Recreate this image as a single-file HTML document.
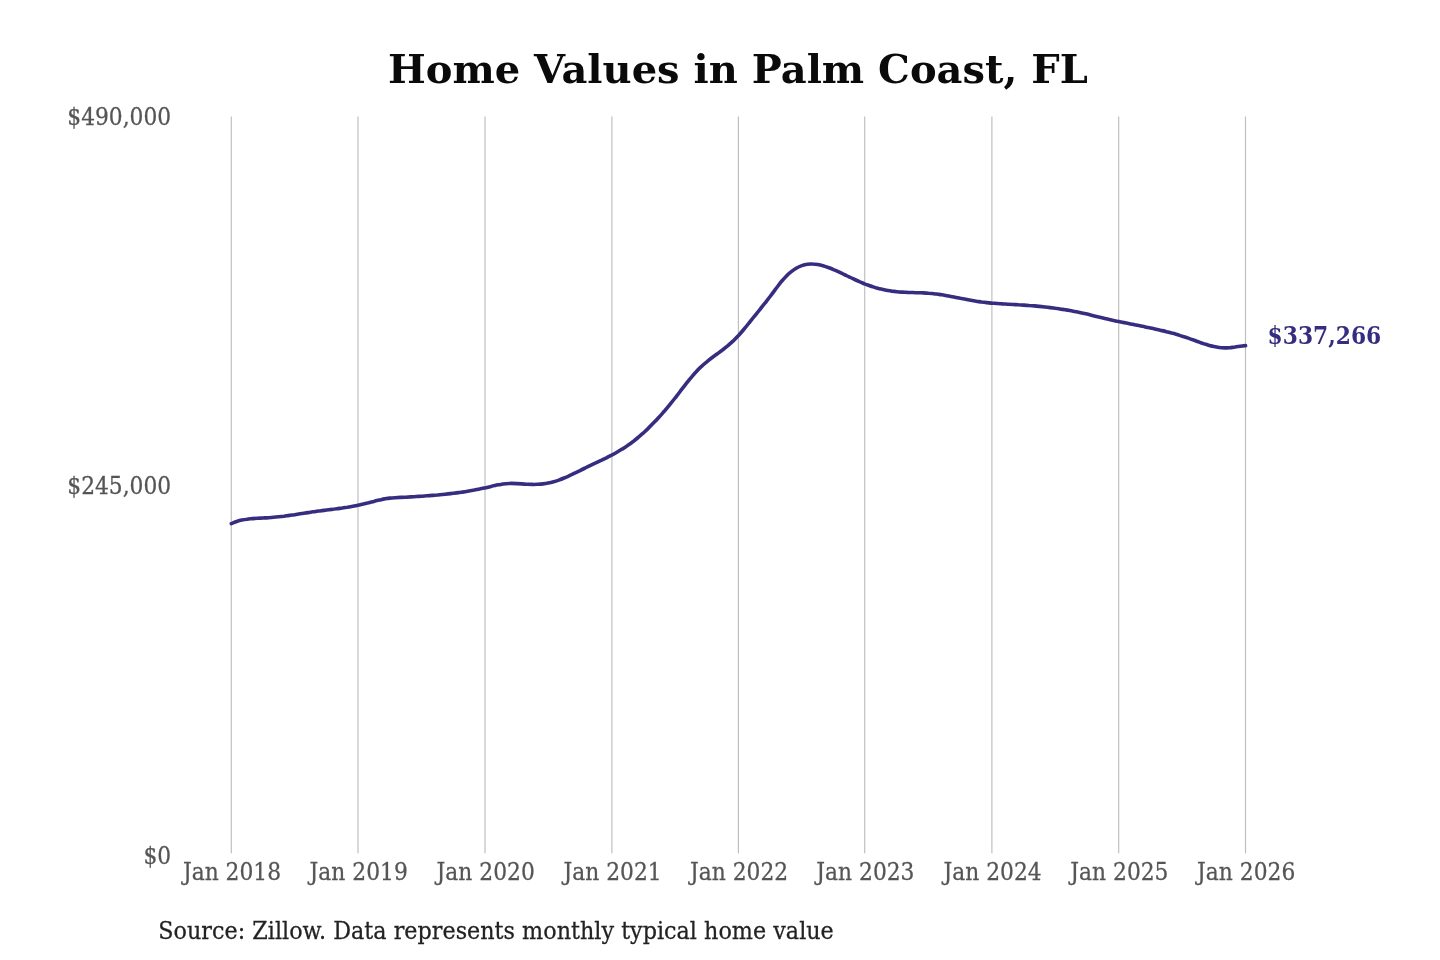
<!DOCTYPE html>
<html lang="en">
<head>
<meta charset="utf-8">
<title>Home Values in Palm Coast, FL</title>
<style>
html,body{margin:0;padding:0;background:#fff;}
body{width:1440px;height:960px;overflow:hidden;}
svg{display:block;}
text{font-family:"DejaVu Serif","Liberation Serif",serif;}
.title{font-size:40px;font-weight:bold;fill:#0a0a0a;}
.ax{font-size:21.8px;fill:#555;stroke:#555;stroke-width:0.25px;}
.val{font-size:21.8px;font-weight:bold;fill:#362d80;}
.src{font-size:22.3px;fill:#222;stroke:#222;stroke-width:0.25px;}
</style>
</head>
<body>
<svg width="1440" height="960" viewBox="0 0 1440 960">
<rect width="1440" height="960" fill="#ffffff"/>
<line x1="231.3" y1="116.5" x2="231.3" y2="853.3" stroke="#bdbdbd" stroke-width="1.15"/>
<line x1="358.0" y1="116.5" x2="358.0" y2="853.3" stroke="#bdbdbd" stroke-width="1.15"/>
<line x1="485.0" y1="116.5" x2="485.0" y2="853.3" stroke="#bdbdbd" stroke-width="1.15"/>
<line x1="611.9" y1="116.5" x2="611.9" y2="853.3" stroke="#bdbdbd" stroke-width="1.15"/>
<line x1="738.4" y1="116.5" x2="738.4" y2="853.3" stroke="#bdbdbd" stroke-width="1.15"/>
<line x1="864.7" y1="116.5" x2="864.7" y2="853.3" stroke="#bdbdbd" stroke-width="1.15"/>
<line x1="991.9" y1="116.5" x2="991.9" y2="853.3" stroke="#bdbdbd" stroke-width="1.15"/>
<line x1="1118.7" y1="116.5" x2="1118.7" y2="853.3" stroke="#bdbdbd" stroke-width="1.15"/>
<line x1="1245.5" y1="116.5" x2="1245.5" y2="853.3" stroke="#bdbdbd" stroke-width="1.15"/>
<text transform="translate(737.90 83.10) scale(1.0000 0.9900)" text-anchor="middle" class="title">Home Values in Palm Coast, FL</text>
<text transform="translate(171.20 125.00) scale(1.0000 1.1200)" text-anchor="end" class="ax">$490,000</text>
<text transform="translate(171.20 494.40) scale(1.0000 1.1200)" text-anchor="end" class="ax">$245,000</text>
<text transform="translate(171.20 863.90) scale(1.0000 1.1200)" text-anchor="end" class="ax">$0</text>
<text transform="translate(232.00 879.70) scale(1.0000 1.0900)" text-anchor="middle" class="ax">Jan 2018</text>
<text transform="translate(358.70 879.70) scale(1.0000 1.0900)" text-anchor="middle" class="ax">Jan 2019</text>
<text transform="translate(485.70 879.70) scale(1.0000 1.0900)" text-anchor="middle" class="ax">Jan 2020</text>
<text transform="translate(612.60 879.70) scale(1.0000 1.0900)" text-anchor="middle" class="ax">Jan 2021</text>
<text transform="translate(739.10 879.70) scale(1.0000 1.0900)" text-anchor="middle" class="ax">Jan 2022</text>
<text transform="translate(865.40 879.70) scale(1.0000 1.0900)" text-anchor="middle" class="ax">Jan 2023</text>
<text transform="translate(992.60 879.70) scale(1.0000 1.0900)" text-anchor="middle" class="ax">Jan 2024</text>
<text transform="translate(1119.40 879.70) scale(1.0000 1.0900)" text-anchor="middle" class="ax">Jan 2025</text>
<text transform="translate(1246.20 879.70) scale(1.0000 1.0900)" text-anchor="middle" class="ax">Jan 2026</text>
<path d="M231.3 523.6 C232.2 523.3 234.8 522.1 236.6 521.5 C238.3 521.0 240.1 520.5 241.9 520.1 C243.6 519.7 245.4 519.4 247.1 519.2 C248.9 518.9 250.7 518.8 252.4 518.6 C254.2 518.5 256.0 518.4 257.7 518.3 C259.5 518.2 261.2 518.1 263.0 518.0 C264.8 517.9 266.5 517.9 268.3 517.7 C270.0 517.6 271.8 517.5 273.6 517.3 C275.3 517.2 277.1 517.0 278.8 516.8 C280.6 516.6 282.4 516.4 284.1 516.2 C285.9 515.9 287.6 515.7 289.4 515.4 C291.2 515.2 292.9 514.9 294.7 514.7 C296.5 514.4 298.2 514.1 300.0 513.8 C301.7 513.6 303.5 513.3 305.3 513.0 C307.0 512.7 308.8 512.5 310.5 512.2 C312.3 511.9 314.1 511.7 315.8 511.4 C317.6 511.2 319.3 510.9 321.1 510.7 C322.9 510.5 324.6 510.2 326.4 510.0 C328.2 509.8 329.9 509.6 331.7 509.4 C333.4 509.1 335.2 508.9 337.0 508.7 C338.7 508.5 340.5 508.2 342.2 508.0 C344.0 507.7 345.8 507.4 347.5 507.2 C349.3 506.9 351.0 506.6 352.8 506.2 C354.6 505.9 356.3 505.6 358.1 505.2 C359.8 504.9 361.6 504.5 363.4 504.1 C365.1 503.7 366.9 503.2 368.7 502.8 C370.4 502.3 372.2 501.8 373.9 501.4 C375.7 500.9 377.5 500.5 379.2 500.1 C381.0 499.7 382.7 499.2 384.5 498.9 C386.3 498.6 388.0 498.3 389.8 498.1 C391.5 497.9 393.3 497.8 395.1 497.7 C396.8 497.6 398.6 497.5 400.4 497.4 C402.1 497.3 403.9 497.2 405.6 497.2 C407.4 497.1 409.2 497.0 410.9 496.9 C412.7 496.8 414.4 496.7 416.2 496.5 C418.0 496.4 419.7 496.3 421.5 496.2 C423.2 496.1 425.0 496.0 426.8 495.8 C428.5 495.7 430.3 495.6 432.0 495.4 C433.8 495.3 435.6 495.1 437.3 495.0 C439.1 494.8 440.9 494.7 442.6 494.5 C444.4 494.3 446.1 494.1 447.9 493.9 C449.7 493.7 451.4 493.5 453.2 493.3 C454.9 493.1 456.7 492.9 458.5 492.6 C460.2 492.4 462.0 492.1 463.7 491.9 C465.5 491.6 467.3 491.3 469.0 491.0 C470.8 490.7 472.5 490.4 474.3 490.1 C476.1 489.7 477.8 489.4 479.6 489.0 C481.4 488.7 483.1 488.3 484.9 487.9 C486.6 487.5 488.4 487.1 490.2 486.7 C491.9 486.2 493.7 485.8 495.4 485.4 C497.2 485.1 499.0 484.7 500.7 484.4 C502.5 484.1 504.2 483.9 506.0 483.7 C507.8 483.5 509.5 483.5 511.3 483.4 C513.0 483.4 514.8 483.5 516.6 483.6 C518.3 483.7 520.1 483.8 521.9 483.9 C523.6 484.1 525.4 484.2 527.1 484.3 C528.9 484.4 530.7 484.4 532.4 484.4 C534.2 484.5 535.9 484.4 537.7 484.3 C539.5 484.2 541.2 484.1 543.0 483.9 C544.7 483.7 546.5 483.4 548.3 483.0 C550.0 482.7 551.8 482.3 553.6 481.8 C555.3 481.3 557.1 480.7 558.8 480.1 C560.6 479.4 562.4 478.7 564.1 478.0 C565.9 477.3 567.6 476.5 569.4 475.7 C571.2 474.9 572.9 474.1 574.7 473.2 C576.4 472.4 578.2 471.5 580.0 470.6 C581.7 469.7 583.5 468.8 585.2 468.0 C587.0 467.1 588.8 466.2 590.5 465.4 C592.3 464.5 594.1 463.7 595.8 462.9 C597.6 462.0 599.3 461.2 601.1 460.4 C602.9 459.5 604.6 458.7 606.4 457.8 C608.1 456.9 609.9 456.0 611.7 455.1 C613.4 454.2 615.2 453.2 616.9 452.2 C618.7 451.2 620.5 450.2 622.2 449.1 C624.0 448.0 625.8 446.8 627.5 445.6 C629.3 444.4 631.0 443.1 632.8 441.8 C634.6 440.4 636.3 439.0 638.1 437.5 C639.8 436.0 641.6 434.5 643.4 432.9 C645.1 431.3 646.9 429.7 648.6 427.9 C650.4 426.2 652.2 424.4 653.9 422.6 C655.7 420.8 657.4 418.9 659.2 416.9 C661.0 415.0 662.7 413.0 664.5 411.0 C666.3 408.9 668.0 406.8 669.8 404.6 C671.5 402.5 673.3 400.3 675.1 398.0 C676.8 395.8 678.6 393.5 680.3 391.2 C682.1 388.9 683.9 386.6 685.6 384.4 C687.4 382.2 689.1 379.9 690.9 377.8 C692.7 375.7 694.4 373.6 696.2 371.7 C697.9 369.8 699.7 368.0 701.5 366.4 C703.2 364.7 705.0 363.2 706.8 361.8 C708.5 360.3 710.3 359.0 712.0 357.7 C713.8 356.3 715.6 355.1 717.3 353.8 C719.1 352.5 720.8 351.3 722.6 349.9 C724.4 348.5 726.1 347.2 727.9 345.7 C729.6 344.2 731.4 342.6 733.2 340.9 C734.9 339.2 736.7 337.4 738.5 335.5 C740.2 333.6 742.0 331.6 743.7 329.5 C745.5 327.4 747.3 325.2 749.0 323.0 C750.8 320.8 752.5 318.6 754.3 316.4 C756.1 314.2 757.8 312.0 759.6 309.8 C761.3 307.6 763.1 305.4 764.9 303.2 C766.6 301.0 768.4 298.8 770.1 296.5 C771.9 294.2 773.7 291.8 775.4 289.4 C777.2 287.1 779.0 284.6 780.7 282.4 C782.5 280.3 784.2 278.2 786.0 276.4 C787.8 274.6 789.5 273.1 791.3 271.7 C793.0 270.3 794.8 269.1 796.6 268.0 C798.3 267.0 800.1 266.2 801.8 265.6 C803.6 265.0 805.4 264.5 807.1 264.3 C808.9 264.0 810.6 263.9 812.4 264.0 C814.2 264.0 815.9 264.2 817.7 264.5 C819.5 264.8 821.2 265.3 823.0 265.7 C824.7 266.2 826.5 266.8 828.3 267.5 C830.0 268.1 831.8 268.8 833.5 269.6 C835.3 270.3 837.1 271.1 838.8 271.9 C840.6 272.8 842.3 273.6 844.1 274.5 C845.9 275.3 847.6 276.2 849.4 277.0 C851.1 277.9 852.9 278.7 854.7 279.5 C856.4 280.3 858.2 281.1 860.0 281.9 C861.7 282.6 863.5 283.4 865.2 284.1 C867.0 284.7 868.8 285.4 870.5 286.0 C872.3 286.6 874.0 287.1 875.8 287.7 C877.6 288.2 879.3 288.7 881.1 289.1 C882.8 289.5 884.6 289.9 886.4 290.2 C888.1 290.6 889.9 290.8 891.7 291.1 C893.4 291.3 895.2 291.5 896.9 291.7 C898.7 291.9 900.5 292.0 902.2 292.1 C904.0 292.2 905.7 292.3 907.5 292.4 C909.3 292.4 911.0 292.5 912.8 292.5 C914.5 292.6 916.3 292.7 918.1 292.7 C919.8 292.8 921.6 292.8 923.3 292.9 C925.1 293.0 926.9 293.1 928.6 293.3 C930.4 293.4 932.2 293.5 933.9 293.7 C935.7 293.9 937.4 294.2 939.2 294.4 C941.0 294.7 942.7 294.9 944.5 295.2 C946.2 295.5 948.0 295.9 949.8 296.2 C951.5 296.5 953.3 296.9 955.0 297.2 C956.8 297.6 958.6 297.9 960.3 298.3 C962.1 298.6 963.8 299.0 965.6 299.3 C967.4 299.7 969.1 300.0 970.9 300.3 C972.7 300.6 974.4 300.9 976.2 301.2 C977.9 301.5 979.7 301.7 981.5 302.0 C983.2 302.2 985.0 302.4 986.7 302.6 C988.5 302.8 990.3 302.9 992.0 303.1 C993.8 303.2 995.5 303.4 997.3 303.5 C999.1 303.6 1000.8 303.7 1002.6 303.9 C1004.4 304.0 1006.1 304.1 1007.9 304.2 C1009.6 304.3 1011.4 304.4 1013.2 304.5 C1014.9 304.6 1016.7 304.6 1018.4 304.8 C1020.2 304.9 1022.0 305.0 1023.7 305.1 C1025.5 305.2 1027.2 305.3 1029.0 305.5 C1030.8 305.6 1032.5 305.7 1034.3 305.9 C1036.0 306.1 1037.8 306.2 1039.6 306.4 C1041.3 306.6 1043.1 306.8 1044.9 307.0 C1046.6 307.2 1048.4 307.4 1050.1 307.6 C1051.9 307.8 1053.7 308.0 1055.4 308.3 C1057.2 308.5 1058.9 308.8 1060.7 309.1 C1062.5 309.3 1064.2 309.6 1066.0 309.9 C1067.7 310.2 1069.5 310.5 1071.3 310.8 C1073.0 311.2 1074.8 311.5 1076.5 311.8 C1078.3 312.2 1080.1 312.6 1081.8 312.9 C1083.6 313.3 1085.4 313.7 1087.1 314.1 C1088.9 314.5 1090.6 315.0 1092.4 315.4 C1094.2 315.8 1095.9 316.2 1097.7 316.7 C1099.4 317.1 1101.2 317.5 1103.0 317.9 C1104.7 318.4 1106.5 318.8 1108.2 319.2 C1110.0 319.6 1111.8 320.0 1113.5 320.4 C1115.3 320.8 1117.1 321.2 1118.8 321.5 C1120.6 321.9 1122.3 322.3 1124.1 322.6 C1125.9 323.0 1127.6 323.4 1129.4 323.7 C1131.1 324.1 1132.9 324.4 1134.7 324.8 C1136.4 325.1 1138.2 325.5 1139.9 325.8 C1141.7 326.2 1143.5 326.5 1145.2 326.9 C1147.0 327.3 1148.7 327.6 1150.5 328.0 C1152.3 328.4 1154.0 328.8 1155.8 329.2 C1157.6 329.6 1159.3 330.0 1161.1 330.4 C1162.8 330.8 1164.6 331.2 1166.4 331.7 C1168.1 332.1 1169.9 332.6 1171.6 333.1 C1173.4 333.5 1175.2 334.0 1176.9 334.5 C1178.7 335.1 1180.4 335.6 1182.2 336.2 C1184.0 336.7 1185.7 337.3 1187.5 337.9 C1189.2 338.5 1191.0 339.2 1192.8 339.8 C1194.5 340.4 1196.3 341.1 1198.1 341.7 C1199.8 342.4 1201.6 343.0 1203.3 343.6 C1205.1 344.2 1206.9 344.7 1208.6 345.3 C1210.4 345.8 1212.1 346.2 1213.9 346.6 C1215.7 347.0 1217.4 347.3 1219.2 347.5 C1220.9 347.8 1222.7 347.9 1224.5 347.9 C1226.2 347.9 1228.0 347.8 1229.8 347.7 C1231.5 347.5 1233.3 347.2 1235.0 347.0 C1236.8 346.7 1238.6 346.4 1240.3 346.2 C1242.1 346.0 1244.7 345.7 1245.6 345.6" fill="none" stroke="#362d80" stroke-width="3.6" stroke-linecap="round" stroke-linejoin="round"/>
<text transform="translate(1267.60 343.60) scale(1.0000 1.1200)" text-anchor="start" class="val">$337,266</text>
<text transform="translate(158.30 938.80) scale(1.0000 1.0600)" text-anchor="start" class="src">Source: Zillow. Data represents monthly typical home value</text>
</svg>
</body>
</html>
